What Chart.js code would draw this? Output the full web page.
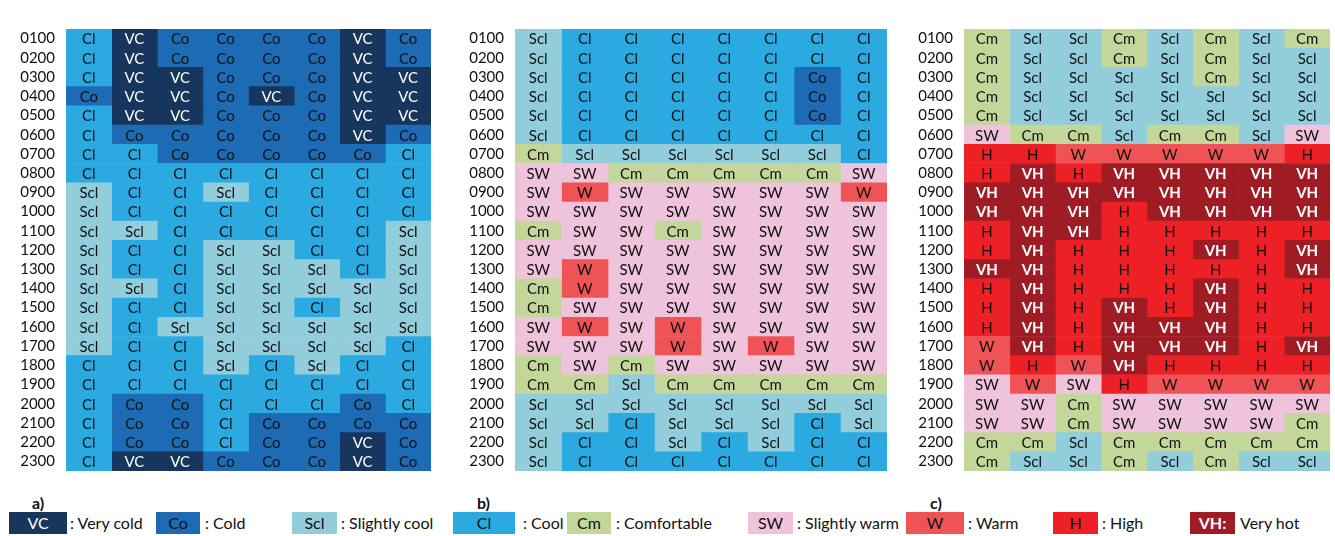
<!DOCTYPE html>
<html>
<head>
<meta charset="utf-8">
<script src="https://cdn.jsdelivr.net/npm/chart.js@4/dist/chart.umd.min.js"></script>
<style>
  html, body { margin: 0; padding: 0; background: #fff; }
  body { width: 1335px; height: 536px; position: relative; overflow: hidden; font-family: Lato, sans-serif; }
  canvas { position: absolute; }
  .lbox { position: absolute; top: 512px; height: 22px; line-height: 22px; text-align: center; font-size: 16px; color: #111; }
  .ltxt { position: absolute; top: 512px; height: 22px; line-height: 22px; font-size: 16px; color: #111; white-space: nowrap; }
  .plabel { position: absolute; top: 493px; font-size: 16px; font-weight: bold; color: #111; }
</style>
</head>
<body>
<canvas id="chartA" width="431" height="482" style="left:0px;top:9px"></canvas>
<canvas id="chartB" width="447" height="482" style="left:440px;top:9px"></canvas>
<canvas id="chartC" width="445" height="482" style="left:885px;top:9px"></canvas>
<div class="plabel" style="left:32px">a)</div>
<div class="plabel" style="left:477px">b)</div>
<div class="plabel" style="left:930px">c)</div>
<div id="legend"></div>

<script>
// 行标签（小时）
const hourLabels = ['0100','0200','0300','0400','0500','0600','0700','0800','0900','1000','1100','1200',
  '1300','1400','1500','1600','1700','1800','1900','2000','2100','2200','2300'];

// 热感分类
const classCodes = ['VC', 'Co', 'Scl', 'Cl', 'Cm', 'SW', 'W', 'H', 'VH'];
const classNames = ['Very cold', 'Cold', 'Slightly cool', 'Cool', 'Comfortable', 'Slightly warm', 'Warm', 'High', 'Very hot'];

// panel a) - one row per hour, 8 columns
const panelA = [
  ['Cl','VC','Co','Co','Co','Co','VC','Co'],
  ['Cl','VC','Co','Co','Co','Co','VC','Co'],
  ['Cl','VC','VC','Co','Co','Co','VC','VC'],
  ['Co','VC','VC','Co','VC','Co','VC','VC'],
  ['Cl','VC','VC','Co','Co','Co','VC','VC'],
  ['Cl','Co','Co','Co','Co','Co','VC','Co'],
  ['Cl','Cl','Co','Co','Co','Co','Co','Cl'],
  ['Cl','Cl','Cl','Cl','Cl','Cl','Cl','Cl'],
  ['Scl','Cl','Cl','Scl','Cl','Cl','Cl','Cl'],
  ['Scl','Cl','Cl','Cl','Cl','Cl','Cl','Cl'],
  ['Scl','Scl','Cl','Cl','Cl','Cl','Cl','Scl'],
  ['Scl','Cl','Cl','Scl','Scl','Cl','Cl','Scl'],
  ['Scl','Cl','Cl','Scl','Scl','Scl','Cl','Scl'],
  ['Scl','Scl','Cl','Scl','Scl','Scl','Scl','Scl'],
  ['Scl','Cl','Cl','Scl','Scl','Cl','Scl','Scl'],
  ['Scl','Cl','Scl','Scl','Scl','Scl','Scl','Scl'],
  ['Scl','Cl','Cl','Scl','Scl','Scl','Scl','Cl'],
  ['Cl','Cl','Cl','Scl','Cl','Scl','Cl','Cl'],
  ['Cl','Cl','Cl','Cl','Cl','Cl','Cl','Cl'],
  ['Cl','Co','Co','Cl','Cl','Cl','Co','Cl'],
  ['Cl','Co','Co','Cl','Co','Co','Co','Co'],
  ['Cl','Co','Co','Cl','Co','Co','VC','Co'],
  ['Cl','VC','VC','Co','Co','Co','VC','Co']
];

// panel b)
const panelB = [
  ['Scl','Cl','Cl','Cl','Cl','Cl','Cl','Cl'],
  ['Scl','Cl','Cl','Cl','Cl','Cl','Cl','Cl'],
  ['Scl','Cl','Cl','Cl','Cl','Cl','Co','Cl'],
  ['Scl','Cl','Cl','Cl','Cl','Cl','Co','Cl'],
  ['Scl','Cl','Cl','Cl','Cl','Cl','Co','Cl'],
  ['Scl','Cl','Cl','Cl','Cl','Cl','Cl','Cl'],
  ['Cm','Scl','Scl','Scl','Scl','Scl','Scl','Cl'],
  ['SW','SW','Cm','Cm','Cm','Cm','Cm','SW'],
  ['SW','W','SW','SW','SW','SW','SW','W'],
  ['SW','SW','SW','SW','SW','SW','SW','SW'],
  ['Cm','SW','SW','Cm','SW','SW','SW','SW'],
  ['SW','SW','SW','SW','SW','SW','SW','SW'],
  ['SW','W','SW','SW','SW','SW','SW','SW'],
  ['Cm','W','SW','SW','SW','SW','SW','SW'],
  ['Cm','SW','SW','SW','SW','SW','SW','SW'],
  ['SW','W','SW','W','SW','SW','SW','SW'],
  ['SW','SW','SW','W','SW','W','SW','SW'],
  ['Cm','SW','Cm','SW','SW','SW','SW','SW'],
  ['Cm','Cm','Scl','Cm','Cm','Cm','Cm','Cm'],
  ['Scl','Scl','Scl','Scl','Scl','Scl','Scl','Scl'],
  ['Scl','Scl','Cl','Scl','Scl','Scl','Cl','Scl'],
  ['Scl','Cl','Cl','Scl','Cl','Scl','Cl','Cl'],
  ['Scl','Cl','Cl','Cl','Cl','Cl','Cl','Cl']
];

// panel c)
const panelC = [
  ['Cm','Scl','Scl','Cm','Scl','Cm','Scl','Cm'],
  ['Cm','Scl','Scl','Cm','Scl','Cm','Scl','Scl'],
  ['Cm','Scl','Scl','Scl','Scl','Cm','Scl','Scl'],
  ['Cm','Scl','Scl','Scl','Scl','Scl','Scl','Scl'],
  ['Cm','Scl','Scl','Scl','Scl','Scl','Scl','Scl'],
  ['SW','Cm','Cm','Scl','Cm','Cm','Scl','SW'],
  ['H','H','W','W','W','W','W','H'],
  ['H','VH','H','VH','VH','VH','VH','VH'],
  ['VH','VH','VH','VH','VH','VH','VH','VH'],
  ['VH','VH','VH','H','VH','VH','VH','VH'],
  ['H','VH','VH','H','H','H','H','H'],
  ['H','VH','H','H','H','VH','H','VH'],
  ['VH','VH','H','H','H','H','H','VH'],
  ['H','VH','H','H','H','VH','H','H'],
  ['H','VH','H','VH','H','VH','H','H'],
  ['H','VH','H','VH','VH','VH','H','H'],
  ['W','VH','H','VH','VH','VH','H','VH'],
  ['W','H','W','VH','H','H','H','H'],
  ['SW','W','SW','H','W','W','W','W'],
  ['SW','SW','Cm','SW','SW','SW','SW','SW'],
  ['SW','SW','Cm','SW','SW','SW','SW','Cm'],
  ['Cm','Cm','Scl','Cm','Cm','Cm','Cm','Cm'],
  ['Cm','Scl','Scl','Cm','Scl','Cm','Scl','Scl']
];

// 颜色 / 文字样式
const classColors = {
  VC: '#17365d', Co: '#1c6bb4', Scl: '#92cddc', Cl: '#2aaae1', Cm: '#c4d79b',
  SW: '#efc3dc', W: '#ef5356', H: '#ec2025', VH: '#a01c25'
};
const lightText = { VC: true, VH: true };
const boldText = { VH: true };

Chart.defaults.font.family = 'Lato, sans-serif';
Chart.defaults.animation = false;

// 单元格文字插件
const cellTextPlugin = {
  id: 'cellText',
  afterDatasetsDraw(chart) {
    const ctx = chart.ctx;
    const grid = chart.options.plugins.cellText.grid;
    ctx.save();
    ctx.textAlign = 'center';
    ctx.textBaseline = 'middle';
    chart.data.datasets.forEach((ds, d) => {
      const meta = chart.getDatasetMeta(d);
      meta.data.forEach((bar, i) => {
        const code = grid[i][d];
        const p = bar.getProps(['x', 'y', 'base'], true);
        ctx.font = (boldText[code] ? 'bold ' : '') + '15px Lato, sans-serif';
        ctx.fillStyle = lightText[code] ? '#ffffff' : '#111111';
        ctx.fillText(code, (p.x + p.base) / 2, p.y + 1);
      });
    });
    ctx.restore();
  }
};

const createPanel = (canvasId, grid, axisWidth) => {
  const cols = grid[0].length;
  const datasets = [];
  for (let c = 0; c < cols; c++) {
    datasets.push({
      label: 'col ' + (c + 1),
      data: hourLabels.map(() => 1),
      backgroundColor: grid.map(row => classColors[row[c]]),
      borderWidth: 0,
      barPercentage: 1,
      categoryPercentage: 1
    });
  }
  return new Chart(document.getElementById(canvasId).getContext('2d'), {
    type: 'bar',
    data: { labels: hourLabels, datasets: datasets },
    options: {
      indexAxis: 'y',
      responsive: false,
      layout: { padding: 0 },
      plugins: {
        legend: { display: false },
        tooltip: { enabled: false },
        cellText: { grid: grid }
      },
      scales: {
        x: { stacked: true, min: 0, max: cols, display: false },
        y: {
          stacked: true,
          grid: { display: false, drawTicks: false },
          border: { display: false },
          ticks: { color: '#111111', font: { size: 15 }, padding: 11, autoSkip: false },
          afterFit: (scale) => { scale.width = axisWidth; }
        }
      }
    },
    plugins: [cellTextPlugin]
  });
};

createPanel('chartA', panelA, 66);
createPanel('chartB', panelB, 75);
createPanel('chartC', panelC, 79);

// 图例（位置与原图对齐）
const legendBoxes = [
  [9, 58], [156, 44], [292, 45],
  [453, 62], [567, 44], [748, 45],
  [906, 58], [1053, 45], [1190, 45]
];
const legendTextX = [70, 205, 341, 523, 616, 797, 968, 1102, 1240];

const legend = document.getElementById('legend');
classCodes.forEach((code, i) => {
  const box = document.createElement('div');
  box.className = 'lbox';
  box.style.left = legendBoxes[i][0] + 'px';
  box.style.width = legendBoxes[i][1] + 'px';
  box.style.background = classColors[code];
  box.style.color = lightText[code] ? '#fff' : '#111';
  if (boldText[code]) box.style.fontWeight = 'bold';
  box.textContent = code === 'VH' ? code + ':' : code;
  legend.appendChild(box);

  const txt = document.createElement('div');
  txt.className = 'ltxt';
  txt.style.left = legendTextX[i] + 'px';
  txt.textContent = code === 'VH' ? classNames[i] : ': ' + classNames[i];
  legend.appendChild(txt);
});
</script>
</body>
</html>
